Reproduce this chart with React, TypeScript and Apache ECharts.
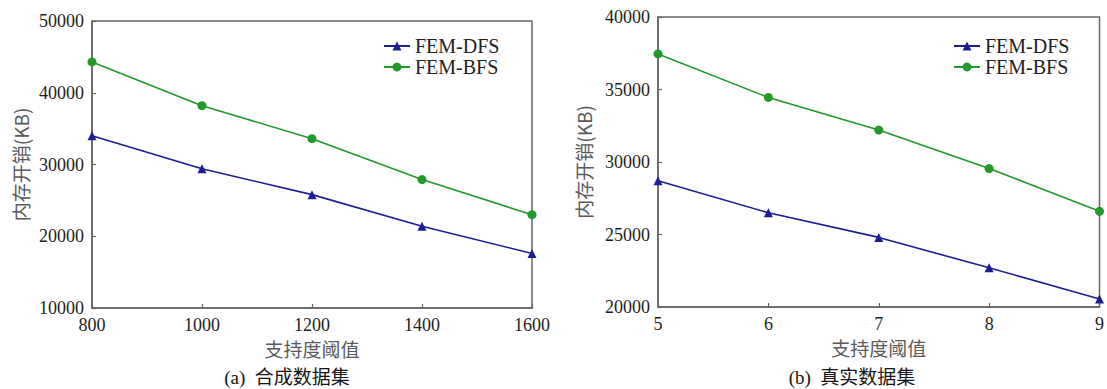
import React, { useEffect, useRef } from "react";
import * as echarts from "echarts";

const xA = [800, 1000, 1200, 1400, 1600];
const dfsA = [34000, 29400, 25800, 21400, 17600];
const bfsA = [44300, 38200, 33600, 27900, 23000];

const xB = [5, 6, 7, 8, 9];
const dfsB = [28700, 26500, 24800, 22700, 20550];
const bfsB = [37450, 34450, 32200, 29550, 26600];

const seriesNames = ["FEM-DFS", "FEM-BFS"];
const xName = "支持度阈值";
const yName = "内存开销(KB)";
const captions = ["(a)  合成数据集", "(b)  真实数据集"];

const BLUE = "#1c1c96";
const GREEN = "#22992a";
const FRAME = "#666";
const SERIF = "Liberation Serif";
const CJK = "Noto Sans CJK SC";

export default function App() {
  const ref = useRef<HTMLDivElement>(null);
  useEffect(() => {
    if (!ref.current) return;
    const chart = echarts.init(ref.current, null, { renderer: "svg" });
    const label = (margin: number) => ({
      color: "#1e1e1e",
      fontSize: 18,
      fontFamily: SERIF,
      fontStyle: "normal",
      margin,
      formatter: (v: number) => String(v),
    });
    const axisCommon = (extra: any) => ({
      axisLine: { show: true, onZero: false, lineStyle: { color: FRAME, width: 1.5 } },
      axisTick: { show: true, inside: true, length: 4, lineStyle: { color: FRAME, width: 1.2 } },
      splitLine: { show: false },
      nameTextStyle: { color: "#5a5a5a", fontSize: 19, fontFamily: CJK },
      ...extra,
    });
    const mk = (name: string, xs: number[], ys: number[], idx: number, dfs: boolean) => ({
      name,
      type: "line",
      xAxisIndex: idx,
      yAxisIndex: idx,
      data: xs.map((x, i) => [x, ys[i]]),
      symbol: dfs ? "triangle" : "circle",
      symbolSize: 9,
      lineStyle: { color: dfs ? BLUE : GREEN, width: 1.6 },
      itemStyle: { color: dfs ? BLUE : GREEN },
    });
    const legendCommon = {
      orient: "vertical",
      itemWidth: 26,
      itemHeight: 11,
      itemGap: 1,
      textStyle: { color: "#222", fontSize: 20, fontFamily: SERIF },
      data: seriesNames,
    };
    chart.setOption({
      animation: false,
      backgroundColor: "#fff",
      textStyle: { fontFamily: SERIF },
      grid: [
        { left: 92, right: 575, top: 21, bottom: 81, show: true, borderColor: FRAME, borderWidth: 1.5 },
        { left: 658, right: 7, top: 17, bottom: 82, show: true, borderColor: FRAME, borderWidth: 1.5 },
      ],
      xAxis: [
        axisCommon({ type: "value", gridIndex: 0, min: 800, max: 1600, interval: 200, name: xName, nameLocation: "middle", nameGap: 28, axisLabel: label(8) }),
        axisCommon({ type: "value", gridIndex: 1, min: 5, max: 9, interval: 1, name: xName, nameLocation: "middle", nameGap: 28, axisLabel: label(8) }),
      ],
      yAxis: [
        axisCommon({ type: "value", gridIndex: 0, min: 10000, max: 50000, interval: 10000, name: yName, nameLocation: "middle", nameGap: 62, axisLabel: label(8) }),
        axisCommon({ type: "value", gridIndex: 1, min: 20000, max: 40000, interval: 5000, name: yName, nameLocation: "middle", nameGap: 65, axisLabel: label(8) }),
      ],
      legend: [
        { ...legendCommon, left: 378, top: 31 },
        { ...legendCommon, left: 948, top: 31 },
      ],
      series: [
        mk(seriesNames[0], xA, dfsA, 0, true),
        mk(seriesNames[1], xA, bfsA, 0, false),
        mk(seriesNames[0], xB, dfsB, 1, true),
        mk(seriesNames[1], xB, bfsB, 1, false),
      ],
      graphic: [
        { type: "text", x: 287, y: 377, style: { text: captions[0], fill: "#151515", fontSize: 19, fontFamily: SERIF + ", " + CJK, align: "center", verticalAlign: "middle", textAlign: "center", textVerticalAlign: "middle" } },
        { type: "text", x: 852, y: 377, style: { text: captions[1], fill: "#151515", fontSize: 19, fontFamily: SERIF + ", " + CJK, align: "center", verticalAlign: "middle", textAlign: "center", textVerticalAlign: "middle" } },
      ],
    });
    return () => chart.dispose();
  }, []);
  return <div ref={ref} style={{ position: "fixed", left: 0, top: 0, width: 1107, height: 389 }} />;
}
